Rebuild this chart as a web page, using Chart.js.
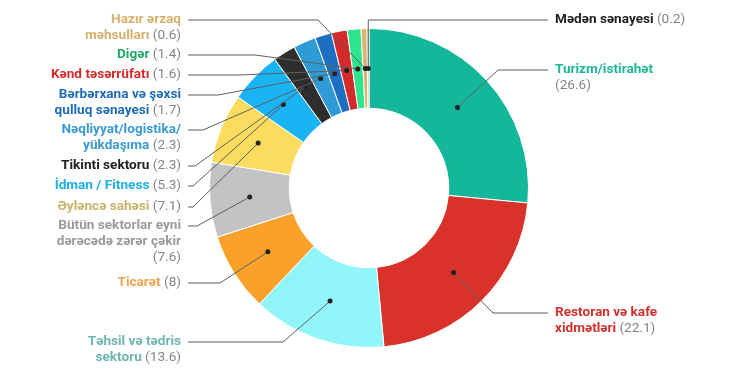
<!DOCTYPE html>
<html>
<head>
<meta charset="utf-8">
<script src="https://cdn.jsdelivr.net/npm/chart.js@4"></script>
<style>
  body { margin: 0; background: #fff; }
  #wrap { width: 756px; height: 391px; position: relative; }
</style>
</head>
<body>
<div id="wrap"><canvas id="donut"></canvas></div>
<script>
// kateqoriyalar (\n = sətir sonu)
const categories = [
  'Turizm/istirahət\n',
  'Restoran və kafe\nxidmətləri',
  'Təhsil və tədris\nsektoru',
  'Ticarət',
  'Bütün sektorlar eyni\ndərəcədə zərər çəkir\n',
  'Əyləncə sahəsi',
  'İdman / Fitness',
  'Tikinti sektoru',
  'Nəqliyyat/logistika/\nyükdaşıma',
  'Bərbərxana və şəxsi\nqulluq sənayesi',
  'Kənd təsərrüfatı',
  'Digər',
  'Hazır ərzaq\nməhsulları',
  'Mədən sənayesi'
];
const values = [26.6, 22.1, 13.6, 8, 7.6, 7.1, 5.3, 2.3, 2.3, 1.7, 1.6, 1.4, 0.6, 0.2];

const sliceColors = ['#15b79b', '#d9322a', '#92f5fa', '#f9a12b', '#c3c3c3', '#fcdc5e', '#1ab3f3',
  '#2e2e2e', '#2e9bd6', '#1d6fc1', '#d42a2a', '#2ee48f', '#d8b571', '#bfae84'];
const textColors = ['#1fb79c', '#d0302b', '#6db5b1', '#f3a44b', '#9a9a9a', '#c7b36a', '#1db0ea',
  '#222222', '#3a9bd0', '#1f6cb8', '#d42a2a', '#22a867', '#d6b06c', '#222222'];

// etiket yerləşdirməsi
const labelSide = ['R', 'R', 'L', 'L', 'L', 'L', 'L', 'L', 'L', 'L', 'L', 'L', 'L', 'R'];
const labelY = [70, 313, 342, 283, 226, 207, 186, 166, 130, 95, 75, 55, 20, 20];
const elbowX = [498, 493, 283, 220, 197, 193, 193, 195, 203, 218, 240, 255, 318, null];

const FONT = 'Roboto, "Noto Sans", sans-serif';
const FSIZE = '13.6px ';
const LINE_H = 16;

const labelPlugin = {
  id: 'leaderLabels',
  afterDatasetsDraw(chart) {
    const ctx = chart.ctx;
    const arcs = chart.getDatasetMeta(0).data;
    ctx.save();
    arcs.forEach((arc, i) => {
      const p = arc.tooltipPosition();
      const y = labelY[i];
      const left = labelSide[i] === 'L';
      const lineEnd = left ? 188 : 548;
      const ex = elbowX[i] === null ? p.x : elbowX[i];

      // xətt
      ctx.strokeStyle = '#5f5f5f';
      ctx.lineWidth = 1;
      ctx.beginPath();
      ctx.moveTo(lineEnd, y);
      ctx.lineTo(ex, y);
      ctx.lineTo(p.x, p.y);
      ctx.stroke();
      ctx.fillStyle = '#222';
      ctx.beginPath();
      ctx.arc(p.x, p.y, 2.5, 0, Math.PI * 2);
      ctx.fill();

      // mətn
      const lines = categories[i].split('\n');
      const valTxt = '(' + values[i] + ')';
      ctx.textBaseline = 'middle';
      const tx = left ? 181 : 555;
      lines.forEach((ln, k) => {
        const ly = y + k * LINE_H;
        const last = k === lines.length - 1;
        ctx.font = 'bold ' + FSIZE + FONT;
        const nameW = ctx.measureText(ln).width;
        ctx.font = FSIZE + FONT;
        const valPart = last ? (ln ? ' ' : '') + valTxt : '';
        const valW = ctx.measureText(valPart).width;
        const startX = left ? tx - nameW - valW : tx;
        ctx.textAlign = 'left';
        ctx.font = 'bold ' + FSIZE + FONT;
        ctx.fillStyle = textColors[i];
        ctx.fillText(ln, startX, ly);
        if (last) {
          ctx.font = FSIZE + FONT;
          ctx.fillStyle = '#858585';
          ctx.fillText(valPart, startX + nameW, ly);
        }
      });
    });
    ctx.restore();
  }
};

new Chart(document.getElementById('donut'), {
  type: 'doughnut',
  data: {
    labels: categories,
    datasets: [{
      data: values,
      backgroundColor: sliceColors,
      borderColor: '#ffffff',
      borderWidth: 1
    }]
  },
  options: {
    responsive: true,
    maintainAspectRatio: false,
    animation: false,
    cutout: '50%',
    layout: { padding: { left: 209, right: 227, top: 28, bottom: 43 } },
    plugins: {
      legend: { display: false },
      tooltip: { enabled: false }
    }
  },
  plugins: [labelPlugin]
});
</script>
</body>
</html>
